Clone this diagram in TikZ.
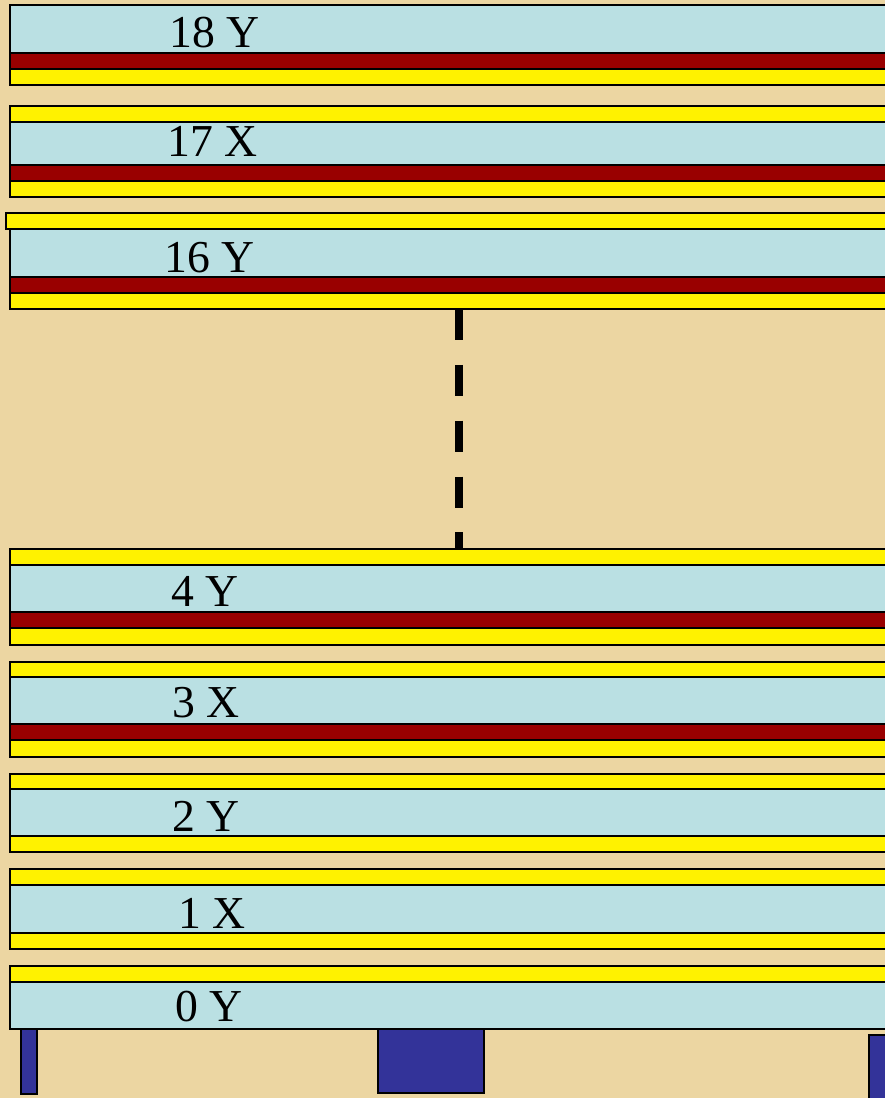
\documentclass[tikz,border=0pt]{standalone}
\usepackage{fontspec}
\setmainfont{Liberation Serif}
\usetikzlibrary{positioning}
\definecolor{papyrus}{RGB}{236,214,162}
\definecolor{sheetblue}{RGB}{186,224,227}
\definecolor{bandred}{RGB}{153,0,0}
\definecolor{postblue}{RGB}{51,51,153}
\tikzset{
  sheet/.style={draw, line width=1.1pt, fill=sheetblue},
  redband/.style={draw, line width=1.1pt, fill=bandred},
  yelband/.style={draw, line width=1.1pt, fill=yellow},
  post/.style={draw, line width=1.1pt, fill=postblue},
  sheetlabel/.style={anchor=base west, inner sep=0pt, font=\fontsize{26}{30}\selectfont},
  gapline/.style={line width=4pt, dash pattern=on 17.6pt off 14.2pt}
}
\begin{document}
\begin{tikzpicture}[x=0.02cm, y=-0.02cm]
\useasboundingbox (0,0) rectangle (885,1098);
\clip (0,0) rectangle (885,1098);
\fill[papyrus] (0,0) rectangle (885,1098);
% layer 18
\draw[sheet] (10,5) rectangle (900,53);
\draw[redband] (10,53) rectangle (900,69);
\draw[yelband] (10,69) rectangle (900,85);
\node[sheetlabel] (l18) at (169,48) {18 Y};
% layer 17
\draw[yelband] (10,106) rectangle (900,122);
\draw[sheet] (10,122) rectangle (900,165);
\draw[redband] (10,165) rectangle (900,181);
\draw[yelband] (10,181) rectangle (900,197);
\node[sheetlabel] (l17) at (167,157) {17 X};
% layer 16
\draw[yelband] (6,213) rectangle (900,229);
\draw[sheet] (10,229) rectangle (900,277);
\draw[redband] (10,277) rectangle (900,293);
\draw[yelband] (10,293) rectangle (900,309);
\node[sheetlabel] (l16) at (164,272) {16 Y};
% layers left out
\coordinate (gaptop) at (459,309);
\coordinate (gapbot) at (459,549);
\draw[gapline] (gaptop) -- (gapbot);
% layer 4
\draw[yelband] (10,549) rectangle (900,565);
\draw[sheet] (10,565) rectangle (900,612);
\draw[redband] (10,612) rectangle (900,628);
\draw[yelband] (10,628) rectangle (900,645);
\node[sheetlabel] (l4) at (171,606) {4 Y};
% layer 3
\draw[yelband] (10,662) rectangle (900,677);
\draw[sheet] (10,677) rectangle (900,724);
\draw[redband] (10,724) rectangle (900,740);
\draw[yelband] (10,740) rectangle (900,757);
\node[sheetlabel] (l3) at (172,717) {3 X};
% layer 2
\draw[yelband] (10,774) rectangle (900,789);
\draw[sheet] (10,789) rectangle (900,836);
\draw[yelband] (10,836) rectangle (900,852);
\node[sheetlabel] (l2) at (172,831) {2 Y};
% layer 1
\draw[yelband] (10,869) rectangle (900,885);
\draw[sheet] (10,885) rectangle (900,933);
\draw[yelband] (10,933) rectangle (900,949);
\node[sheetlabel] (l1) at (178,928) {1 X};
% layer 0
\draw[yelband] (10,966) rectangle (900,982);
\draw[sheet] (10,982) rectangle (900,1029);
\node[sheetlabel] (l0) at (175,1021) {0 Y};
% supports
\draw[post] (21,1029) rectangle (37,1094);
\draw[post] (378,1029) rectangle (484,1093);
\draw[post] (869,1035) rectangle (900,1110);
\end{tikzpicture}
\end{document}
